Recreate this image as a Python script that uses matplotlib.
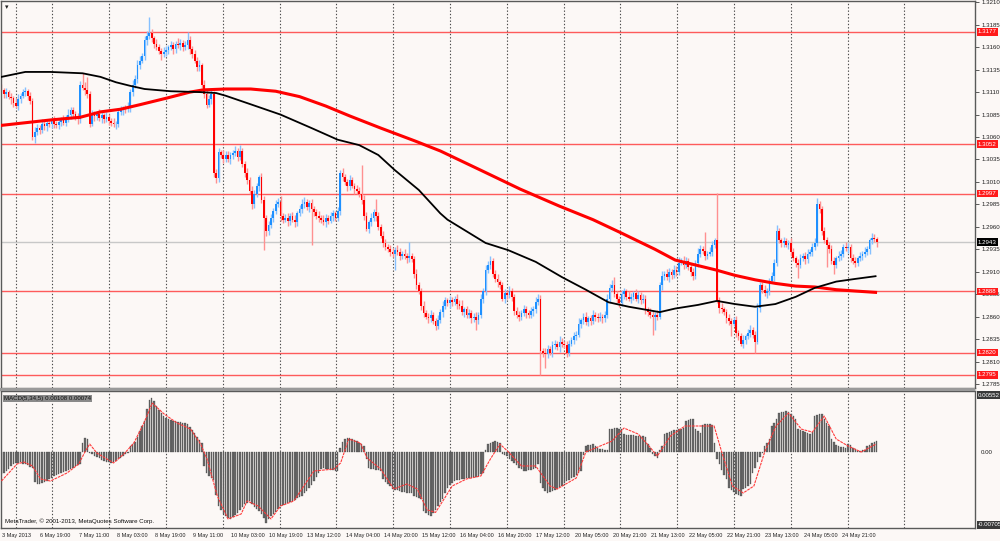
import numpy as np
import matplotlib
matplotlib.use('Agg')
import matplotlib.pyplot as plt
from matplotlib.transforms import blended_transform_factory
from matplotlib.patches import Rectangle

plt.rcParams['font.family'] = ['Liberation Sans', 'DejaVu Sans']

# EURUSD H1, prices kept as pips above BASE
BASE = 1.2800
first_open = 315

close_pips = [
    312, 308, 310, 305, 303, 298, 295, 302, 306, 310,
    311, 306, 300, 260, 266, 270, 268, 274, 272, 276,
    274, 278, 275, 273, 277, 279, 276, 280, 285, 290,
    286, 282, 280, 318, 315, 312, 308, 275, 285, 283,
    286, 281, 284, 280, 282, 278, 276, 274, 275, 288,
    290, 292, 291, 293, 310, 318, 325, 340, 345, 350,
    368, 372, 376, 370, 364, 360, 356, 352, 355, 357,
    360, 362, 358, 364, 362, 365, 360, 362, 368, 358,
    352, 345, 338, 340, 318, 308, 296, 302, 308, 220,
    214, 243, 240, 236, 240, 235, 240, 242, 245, 238,
    244, 230, 220, 212, 200, 185, 196, 205, 215, 190,
    170, 155, 162, 170, 178, 185, 188, 172, 168, 170,
    166, 172, 168, 165, 175, 180, 185, 188, 182, 186,
    180, 176, 172, 170, 168, 165, 170, 167, 172, 175,
    170, 178, 220, 215, 210, 205, 212, 206, 202, 200,
    196, 190, 172, 158, 165, 170, 176, 172, 160, 150,
    142, 138, 135, 132, 130, 134, 132, 128, 130, 127,
    125, 128, 124, 108, 95, 88, 72, 64, 60, 58,
    62, 55, 50, 56, 65, 72, 78, 75, 78, 76,
    80, 74, 72, 65, 68, 62, 64, 58, 60, 56,
    62, 80, 88, 112, 118, 122, 108, 102, 98, 95,
    80, 86, 84, 88, 82, 66, 62, 60, 64, 68,
    64, 62, 66, 68, 76, 80, 22, 20, 18, 24,
    20, 28, 30, 26, 32, 30, 28, 20, 30, 34,
    38, 40, 52, 56, 60, 54, 58, 55, 62, 60,
    58, 60, 58, 62, 80, 92, 95, 85, 80, 75,
    85, 88, 82, 80, 82, 86, 80, 84, 78, 80,
    68, 65, 62, 60, 62, 60, 95, 105, 108, 104,
    110, 106, 112, 110, 120, 122, 118, 122, 115, 110,
    105, 120, 130, 135, 133, 128, 130, 132, 140, 145,
    78, 70, 68, 65, 58, 55, 52, 56, 42, 38,
    30, 34, 38, 42, 45, 40, 32, 70, 95, 90,
    86, 88, 100, 105, 120, 155, 145, 142, 144, 140,
    142, 132, 125, 120, 118, 125, 128, 124, 130, 132,
    138, 142, 185, 180, 155, 145, 140, 135, 122, 118,
    125, 128, 130, 138, 136, 138, 125, 122, 120, 125,
    128, 130, 132, 135, 145, 148, 146, 143,
]

upper_wick = [
    4, 3, 5, 2, 4, 3, 5, 6, 3, 4,
    5, 3, 4, 3, 5, 4, 3, 6, 4, 3,
    4, 3, 5, 3, 4, 3, 5, 4, 6, 3,
    4, 3, 5, 4, 13, 6, 15, 3, 5, 4,
    3, 5, 4, 3, 6, 4, 3, 5, 3, 4,
    5, 3, 4, 6, 3, 5, 4, 6, 5, 4,
    5, 6, 18, 4, 3, 5, 4, 3, 5, 4,
    3, 5, 4, 3, 6, 4, 3, 5, 9, 4,
    3, 5, 4, 6, 3, 5, 4, 5, 4, 3,
    4, 5, 3, 6, 4, 5, 3, 4, 5, 3,
    7, 4, 3, 5, 4, 6, 5, 4, 3, 5,
    4, 3, 5, 4, 3, 5, 4, 6, 3, 4,
    5, 3, 4, 5, 3, 4, 6, 5, 3, 4,
    5, 3, 4, 6, 3, 5, 4, 3, 5, 4,
    3, 4, 3, 5, 4, 3, 6, 4, 3, 5,
    4, 33, 5, 4, 3, 5, 4, 15, 4, 3,
    5, 4, 3, 5, 4, 3, 6, 4, 3, 5,
    4, 15, 3, 4, 5, 3, 4, 5, 3, 4,
    5, 3, 4, 6, 3, 5, 4, 3, 5, 4,
    3, 5, 4, 6, 3, 4, 5, 3, 4, 5,
    3, 5, 4, 5, 4, 6, 3, 4, 5, 3,
    4, 5, 3, 6, 4, 3, 5, 4, 3, 5,
    4, 3, 5, 4, 6, 5, 4, 3, 5, 4,
    3, 5, 4, 3, 6, 4, 3, 5, 4, 3,
    5, 4, 6, 3, 4, 5, 3, 4, 5, 3,
    4, 5, 3, 4, 5, 4, 6, 9, 4, 3,
    5, 4, 3, 6, 4, 3, 5, 4, 3, 5,
    4, 3, 5, 4, 3, 5, 4, 6, 3, 5,
    4, 3, 5, 4, 6, 3, 5, 4, 3, 5,
    4, 3, 6, 5, 4, 21, 3, 5, 4, 3,
    53, 4, 5, 3, 4, 5, 3, 4, 5, 3,
    4, 5, 3, 4, 6, 3, 4, 5, 4, 3,
    5, 4, 3, 5, 4, 7, 4, 3, 5, 4,
    3, 5, 4, 3, 4, 5, 3, 4, 5, 3,
    4, 5, 7, 4, 3, 5, 4, 3, 5, 4,
    3, 5, 4, 3, 5, 4, 3, 5, 4, 3,
    4, 3, 5, 4, 3, 5, 4, 3,
]

lower_wick = [
    3, 5, 4, 3, 6, 4, 3, 5, 4, 3,
    4, 5, 3, 3, 7, 4, 5, 3, 4, 5,
    3, 4, 5, 3, 4, 5, 3, 4, 3, 5,
    4, 3, 5, 4, 3, 5, 4, 4, 3, 5,
    4, 3, 5, 4, 3, 5, 4, 3, 5, 4,
    3, 5, 4, 3, 5, 4, 3, 5, 4, 3,
    4, 5, 3, 4, 5, 3, 4, 6, 3, 5,
    4, 3, 5, 4, 3, 5, 4, 3, 4, 5,
    4, 3, 5, 4, 3, 5, 4, 3, 5, 4,
    5, 4, 3, 5, 4, 3, 5, 4, 3, 5,
    4, 3, 5, 4, 3, 5, 4, 3, 5, 4,
    36, 5, 4, 3, 5, 4, 3, 5, 4, 3,
    5, 4, 3, 5, 4, 3, 5, 4, 3, 5,
    40, 4, 3, 5, 4, 3, 5, 4, 3, 5,
    4, 3, 5, 4, 3, 5, 4, 3, 5, 4,
    3, 5, 4, 3, 5, 4, 3, 5, 4, 3,
    5, 4, 3, 5, 4, 18, 3, 5, 4, 3,
    5, 4, 3, 5, 4, 3, 5, 4, 3, 5,
    4, 3, 5, 4, 3, 5, 4, 3, 5, 4,
    3, 5, 4, 3, 5, 4, 3, 5, 4, 11,
    4, 3, 5, 4, 3, 5, 4, 3, 5, 4,
    3, 5, 4, 3, 5, 4, 3, 5, 4, 3,
    5, 4, 3, 5, 4, 3, 27, 5, 15, 4,
    3, 5, 4, 3, 5, 4, 3, 5, 4, 3,
    5, 4, 3, 5, 4, 3, 5, 4, 3, 5,
    4, 3, 5, 4, 3, 5, 4, 3, 5, 4,
    3, 5, 4, 3, 5, 4, 3, 5, 4, 3,
    5, 4, 3, 20, 15, 4, 3, 5, 4, 3,
    5, 4, 3, 5, 4, 3, 5, 4, 3, 5,
    4, 3, 5, 4, 3, 5, 4, 3, 5, 4,
    3, 6, 4, 3, 5, 4, 14, 3, 5, 4,
    3, 5, 4, 3, 5, 4, 12, 3, 5, 4,
    3, 5, 4, 3, 5, 4, 3, 5, 4, 3,
    5, 4, 3, 5, 15, 4, 3, 5, 4, 3,
    5, 4, 3, 5, 4, 3, 25, 4, 3, 11,
    4, 3, 5, 4, 3, 5, 4, 3, 5, 4,
    3, 5, 4, 3, 5, 4, 3, 5,
]

# MACD(5,34,5) histogram, in units of 0.00001
macd_hist = [
    -213, -200, -180, -160, -140, -120, -106, -110, -100, -115,
    -120, -130, -145, -155, -290, -310, -305, -300, -290, -280,
    -265, -250, -235, -225, -215, -205, -195, -185, -170, -160,
    -150, -140, -125, -116, 87, 135, 130, -10, -20, -35,
    -45, -60, -75, -85, -95, -100, -106, -100, -85, -70,
    -55, -40, -20, -5, 60, 77, 95, 150, 200, 250,
    300, 420, 500, 520, 495, 445, 410, 377, 350, 330,
    320, 310, 300, 300, 295, 290, 285, 280, 270, 240,
    210, 180, 150, 120, 87, -135, -200, -230, -250, -270,
    -420, -520, -560, -600, -620, -640, -650, -630, -610, -590,
    -560, -530, -500, -490, -475, -500, -530, -550, -570, -600,
    -640, -690, -650, -620, -600, -580, -550, -520, -510, -500,
    -490, -480, -470, -460, -450, -440, -425, -400, -380, -350,
    -320, -280, -240, -200, -165, -155, -160, -165, -170, -175,
    -180, -185, 40, 100, 126, 135, 135, 130, 120, 106,
    90, 75, 58, -68, -155, -160, -165, -170, -175, -185,
    -260, -290, -310, -330, -360, -365, -370, -380, -385, -390,
    -395, -400, -400, -425, -435, -445, -455, -570, -590, -610,
    -620, -590, -560, -520, -480, -455, -400, -350, -320, -300,
    -280, -275, -270, -265, -260, -255, -250, -250, -245, -240,
    -230, -215, -200, 20, 77, 85, 95, 106, 100, 90,
    -20, -30, -40, -68, -90, -110, -130, -150, -165, -185,
    -180, -175, -170, -160, -155, -116, -300, -350, -380, -400,
    -390, -380, -370, -355, -340, -330, -300, -285, -270, -255,
    -240, -220, -200, -180, -30, 58, 65, 70, 77, 60,
    40, 30, 25, 20, 20, 220, 225, 230, 228, 225,
    222, 170, 168, 165, 162, 160, 158, 156, 155, 155,
    150, 77, 40, -20, -40, -58, 20, 58, 170, 180,
    190, 200, 210, 215, 220, 225, 230, 300, 310, 320,
    315, 220, 200, 185, 260, 270, 275, 270, 265, 90,
    -68, -120, -170, -220, -260, -350, -370, -390, -410, -420,
    -425, -360, -345, -330, -310, -200, -150, -100, -50, -10,
    58, 90, 126, 250, 285, 320, 377, 385, 390, 397,
    390, 368, 345, 320, 220, 210, 200, 190, 180, 175,
    195, 350, 360, 370, 365, 320, 285, 250, 126, 95,
    70, 58, 52, 46, 40, 77, 70, 40, 25, 10,
    10, 15, 20, 58, 70, 85, 95, 106,
]

# signal line read at bar positions (units 0.00001)
signal_bars = [0, 6.5, 9.4, 13, 16.4, 20.5, 27.5, 32.4, 35.2, 37, 40, 47, 51.3, 55.5,
               59.7, 63.2, 68.2, 73.7, 79.3, 83.5, 86.2, 90.5, 95, 100.5, 103, 107.6,
               113, 117, 122.6, 131, 139.4, 142.2, 145.6, 150.5, 153.3, 159, 164.5,
               170, 174.3, 178.5, 182, 186, 189, 195, 201, 205, 209, 212.6, 218, 224,
               230, 233, 241, 245, 250, 256, 261, 267, 271.5, 275, 280.5, 286.6,
               292.6, 298.8, 302, 306.5, 311, 315.5, 320, 324.8, 330, 335.4, 340,
               345, 350, 355, 360.5, 366.7]
signal_vals = [-281, -116, -97, -135, -261, -281, -203, -116, 10, 77, -10, -106, -20, 87,
               280, 474, 368, 280, 222, 77, -68, -426, -648, -600, -474, -523,
               -648, -523, -474, -184, -165, -106, 126, 87, -58, -165, -358,
               -310, -358, -560, -585, -440, -329, -261, -232, -68, 77, 0, -135, -135,
               -329, -358, -252, 0, 48, 106, 232, 174, 58, -39, 155, 252,
               252, 252, 0, -329, -397, -329, 0, 252, 377, 222, 193,
               348, 126, 58, 0, 77]

# moving averages read at bar positions (pips above BASE)
ma_black_bars = [0, 10, 20.5, 34, 41.5, 48, 54, 60, 71, 83.5, 90, 94, 105, 117, 130, 141,
                 150, 158, 165, 175, 184, 187, 203, 212.5, 224, 235, 245, 254.5, 263,
                 276, 282.5, 292, 300, 307.5, 316, 324.5, 333, 341, 350, 358, 366.5]
ma_black_pips = [327, 332.5, 332.5, 331, 327, 321, 317, 313.5, 311, 310, 309, 306, 296, 285,
                 270, 257, 251, 240, 223, 201, 175, 168, 142, 134, 121, 104, 90, 76, 71,
                 65, 69, 73, 77.5, 74, 71, 74, 82, 92, 99, 102, 105]
ma_red_bars = [0, 20.5, 33, 41.5, 50, 58, 69.5, 79, 84.5, 94, 104.5, 115, 125, 136, 146,
               159, 173.5, 184, 201, 217.5, 234, 248, 260, 274, 282.5, 299.5, 307.5,
               316, 324.5, 333, 341, 350, 358, 366.5]
ma_red_pips = [273, 279, 282, 288, 291, 296, 303.5, 310, 312.5, 313.5, 313.5, 311, 305,
               294.5, 283.5, 270, 255.5, 244.5, 223, 202, 183, 168, 153, 135, 123, 112,
               106, 101, 97, 94, 93, 90, 88.5, 87]

levels = [1.3177, 1.3052, 1.2997, 1.2888, 1.2820, 1.2795]
last_price = 1.2943

date_labels = ['3 May 2013', '6 May 19:00', '7 May 11:00', '8 May 03:00', '8 May 19:00',
               '9 May 11:00', '10 May 03:00', '10 May 19:00', '13 May 12:00', '14 May 04:00',
               '14 May 20:00', '15 May 12:00', '16 May 04:00', '16 May 20:00', '17 May 12:00',
               '20 May 05:00', '20 May 21:00', '21 May 13:00', '22 May 05:00', '22 May 21:00',
               '23 May 13:00', '24 May 05:00', '24 May 21:00']

assert len(close_pips) == len(upper_wick) == len(lower_wick) == len(macd_hist), \
    (len(close_pips), len(upper_wick), len(lower_wick), len(macd_hist))

# ---- build candles
closes = BASE + np.array(close_pips) / 1e4
opens = np.concatenate([[BASE + first_open / 1e4], closes[:-1]])
highs = np.maximum(opens, closes) + np.array(upper_wick) / 1e4
lows = np.minimum(opens, closes) - np.array(lower_wick) / 1e4
x = np.arange(len(closes))
up = closes >= opens
dn = ~up

bg = '#fcf8f6'
W, H = 1000, 541
fig = plt.figure(figsize=(10, 5.41), dpi=100, facecolor=bg)
ax1 = fig.add_axes([1 / W, 1 - 388 / H, 974 / W, 387 / H], facecolor=bg)
ax2 = fig.add_axes([1 / W, 1 - 528 / H, 974 / W, 137 / H], facecolor=bg)
fig.patches.append(Rectangle((0, 1 - 391 / H), 975 / W, 3 / H, transform=fig.transFigure,
                             facecolor='#9a9a9a', edgecolor='none'))

xmin, xmax = -0.2, 408.2
grid_bars = [6.2] + [21.3 + 23.82 * k for k in range(16)]

# ---- price panel
for g in grid_bars:
    ax1.axvline(g, color='#4a4a4a', lw=0.8, ls=(0, (1.2, 1.8)), zorder=1)
for lv in levels:
    ax1.axhline(lv, color='#ff4040', lw=1.0, alpha=0.85, zorder=1.5)
ax1.axhline(last_price, color='#c8c8c8', lw=1.0, zorder=1.5)

ax1.vlines(x[up], lows[up], highs[up], color='#86c0ff', lw=1.0, zorder=2)
ax1.vlines(x[dn], lows[dn], highs[dn], color='#ff9090', lw=1.0, zorder=2)
ax1.bar(x[up], np.maximum(closes[up] - opens[up], 0.00004), bottom=opens[up],
        width=0.72, color='#1e90ff', lw=0, zorder=2.2)
ax1.bar(x[dn], np.maximum(opens[dn] - closes[dn], 0.00004), bottom=closes[dn],
        width=0.72, color='#ff0000', lw=0, zorder=2.2)

ax1.plot(ma_red_bars, BASE + np.array(ma_red_pips) / 1e4, color='#ff0000', lw=2.2,
         zorder=3, solid_joinstyle='round')
ax1.plot(ma_black_bars, BASE + np.array(ma_black_pips) / 1e4, color='#000000', lw=1.3,
         zorder=3, solid_joinstyle='round')

ax1.set_xlim(xmin, xmax)
ax1.set_ylim(1.27805, 1.32115)
ax1.set_xticks([])
ax1.yaxis.tick_right()
ticks = np.arange(1.2785, 1.32101, 0.0025)
ax1.set_yticks(ticks)
ax1.set_yticklabels(['%.4f' % t for t in ticks])
ax1.tick_params(axis='y', length=3, width=0.6, color='#404040', pad=1.5,
                labelsize=4.4, labelcolor='#202020')

tr1 = blended_transform_factory(ax1.transAxes, ax1.transData)
for lv in levels:
    ax1.text(1.003, lv, '%.4f' % lv, transform=tr1, fontsize=4.4, color='white',
             va='center', ha='left', clip_on=False, zorder=5,
             bbox=dict(facecolor='#ff1a1a', edgecolor='none', pad=0.9))
ax1.text(1.003, last_price, '%.4f' % last_price, transform=tr1, fontsize=4.4, color='white',
         va='center', ha='left', clip_on=False, zorder=5,
         bbox=dict(facecolor='#000000', edgecolor='none', pad=0.9))
ax1.text(0.004, 0.992, '\u25be', transform=ax1.transAxes, fontsize=5, va='top', ha='left',
         color='#202020', family='DejaVu Sans')

# ---- MACD panel
hist = np.array(macd_hist) / 1e5
for g in grid_bars:
    ax2.axvline(g, color='#4a4a4a', lw=0.8, ls=(0, (1.2, 1.8)), zorder=1)
ax2.bar(x, hist, width=0.62, color='#6b6b6b', edgecolor='#3c3c3c', lw=0.2, zorder=2)
ax2.plot(signal_bars, np.array(signal_vals) / 1e5, color='#ff3b3b', lw=0.8,
         ls=(0, (2.5, 0.8)), zorder=3)
ax2.set_xlim(xmin, xmax)
ax2.set_ylim(-0.00736, 0.00591)
ax2.set_xticks([])
ax2.set_yticks([])

tr2 = blended_transform_factory(ax2.transAxes, ax2.transData)
for val, txt in [(0.00552, '0.00552'), (-0.00705, '-0.00705')]:
    ax2.text(1.003, val, txt, transform=tr2, fontsize=4.4, color='white', va='center',
             ha='left', clip_on=False, zorder=5,
             bbox=dict(facecolor='#3a3a3a', edgecolor='none', pad=0.9))
ax2.text(1.006, 0.0, '0.00', transform=tr2, fontsize=4.4, color='#202020', va='center',
         ha='left', clip_on=False)
ax2.text(0.003, 0.965, 'MACD(5,34,5) 0.00108 0.00074', transform=ax2.transAxes,
         fontsize=4.4, va='top', ha='left', color='#101010',
         bbox=dict(facecolor='#8a8a8a', edgecolor='none', pad=0.8))
ax2.text(0.004, 0.03, 'MetaTrader, \u00a9 2001-2013, MetaQuotes Software Corp.',
         transform=ax2.transAxes, fontsize=4.4, va='bottom', ha='left', color='#101010')

trx = blended_transform_factory(ax2.transData, ax2.transAxes)
for k, lab in enumerate(date_labels):
    ax2.text(16 * k + 0.3, -0.052, lab, transform=trx, fontsize=3.95, va='center',
             ha='left', color='#202020', clip_on=False)

for ax in (ax1, ax2):
    for s in ax.spines.values():
        s.set_color('#5a5a5a')
        s.set_linewidth(1.0)

fig.savefig('out.png', dpi=100, facecolor=bg)
